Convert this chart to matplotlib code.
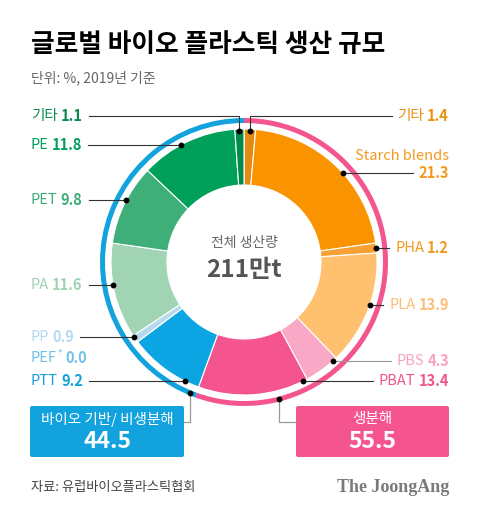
import numpy as np
import matplotlib
matplotlib.use("Agg")
import matplotlib.pyplot as plt
from matplotlib.patches import FancyBboxPatch

plt.rcParams['font.family'] = ['Noto Sans CJK KR', 'DejaVu Sans']

# 생분해 (12시 방향부터 시계방향)
bio_names = ["기타", "Starch blends", "PHA", "PLA", "PBS", "PBAT"]
bio_values = [1.4, 21.3, 1.2, 13.9, 4.3, 13.4]
bio_colors = ["#E38A12", "#FA9300", "#F7A034", "#FFC16F", "#F9A8C5", "#F5558F"]
bio_text_colors = ["#E8920F", "#F39A1E", "#F39A1E", "#FDBE76", "#F7A3C1", "#F0568E"]

# 바이오 기반/비생분해 (이어서 시계방향)
nonbio_names = ["PTT", "PEF*", "PP", "PA", "PET", "PE", "기타"]
nonbio_values = [9.2, 0.0, 0.9, 11.6, 9.8, 11.8, 1.1]
nonbio_colors = ["#0AA5E2", "#6FBFE9", "#B5DAF0", "#A0D4B3", "#3EAF78", "#00A05A", "#008A4E"]
nonbio_text_colors = ["#129FDB", "#6FBFE9", "#B5DAF0", "#9FD3B2", "#3DAE78", "#00A05E", "#0B8A4F"]

group_names = ["생분해", "바이오 기반/ 비생분해"]
group_values = [55.5, 44.5]
group_colors = ["#F5558F", "#12A3DE"]

title = "글로벌 바이오 플라스틱 생산 규모"
subtitle = "단위: %, 2019년 기준"
center_title = "전체 생산량"
center_value = "211만t"
source = "자료: 유럽바이오플라스틱협회"

W, H = 480, 513


def Y(y):
    return H - y


fig = plt.figure(figsize=(W / 100, H / 100), dpi=100)
ax = fig.add_axes([0, 0, 1, 1])

cx, cy = 244, Y(262)
R_OUT, R_IN = 133, 77
R_RING = 144

values = bio_values + nonbio_values
ax.pie(values, colors=bio_colors + nonbio_colors, startangle=90, counterclock=False,
       radius=R_OUT, center=(cx, cy),
       wedgeprops=dict(width=R_OUT - R_IN, edgecolor="white", linewidth=0.8))
ax.pie(group_values, colors=group_colors, startangle=90, counterclock=False,
       radius=R_RING, center=(cx, cy), wedgeprops=dict(width=5, edgecolor="none"))

ax.set_xlim(0, W)
ax.set_ylim(0, H)
ax.set_aspect("equal")
ax.axis("off")

fig.canvas.draw()
rend = fig.canvas.get_renderer()

FS = 10.5
NAME_W = 300
LINE = "#333333"


def mid_angle(idx):
    cum = sum(values[:idx]) + values[idx] / 2
    return np.deg2rad(90 - 360 * cum / sum(values))


def circle_x(y, side, r=R_OUT):
    dy = Y(y) - cy
    return cx + side * np.sqrt(r ** 2 - dy ** 2)


def label_left(x, y, name, val, color):
    star = name.endswith("*")
    t1 = ax.text(x, Y(y), name.rstrip("*"), ha="left", va="center", fontsize=FS,
                 color=color, fontweight=NAME_W)
    x1 = t1.get_window_extent(rend).x1
    if star:
        ts = ax.text(x1 + 0.5, Y(y) + 4, "*", ha="left", va="center", fontsize=7,
                     color=color)
        x1 = ts.get_window_extent(rend).x1
    t2 = ax.text(x1 + 3, Y(y), val, ha="left", va="center", fontsize=FS,
                 color=color, fontweight="bold")
    return t2.get_window_extent(rend).x1


def label_right(x, y, name, val, color):
    t2 = ax.text(x, Y(y), val, ha="right", va="center", fontsize=FS,
                 color=color, fontweight="bold")
    bb = t2.get_window_extent(rend)
    t1 = ax.text(bb.x0 - 3, Y(y), name, ha="right", va="center", fontsize=FS,
                 color=color, fontweight=NAME_W)
    return t1.get_window_extent(rend).x0


def dot(x, y):
    ax.plot([x], [y], "o", color="black", markersize=3.2, zorder=5)


# 왼쪽 라벨
left_y = [381, 358, 337, 285, 200, 145, 116]
for i, (n, v, c, ly) in enumerate(zip(nonbio_names, nonbio_values, nonbio_text_colors, left_y)):
    x_end = label_left(31, ly, n, f"{v:.1f}", c)
    if v == 0:
        continue
    idx = len(bio_values) + i
    if n == "기타":
        a = mid_angle(idx)
        dx_, dy_ = cx + (R_OUT - 2) * np.cos(a), cy + (R_OUT - 2) * np.sin(a)
        ax.plot([x_end + 6, dx_, dx_], [Y(ly), Y(ly), dy_], color=LINE, lw=0.8)
        dot(dx_, dy_)
    else:
        dx_ = circle_x(ly, -1)
        ax.plot([x_end + 6, dx_], [Y(ly), Y(ly)], color=LINE, lw=0.8)
        dot(dx_, Y(ly))

# 오른쪽 라벨
right_y = [116, 173, 248, 305, 361, 381]
for i, (n, v, c, ly) in enumerate(zip(bio_names, bio_values, bio_text_colors, right_y)):
    if n == "Starch blends":
        ax.text(449, Y(ly - 17), n, ha="right", va="center", fontsize=FS, color=c,
                fontweight=NAME_W)
        t = ax.text(449, Y(ly), f"{v:.1f}", ha="right", va="center", fontsize=FS,
                    color=c, fontweight="bold")
        x_start = t.get_window_extent(rend).x0
    else:
        x_start = label_right(449, ly, n, f"{v:.1f}", c)
    lc = "#999999" if n == "PBS" else LINE
    if n == "기타":
        a = mid_angle(i)
        dx_, dy_ = cx + (R_OUT - 2) * np.cos(a), cy + (R_OUT - 2) * np.sin(a)
        ax.plot([x_start - 6, dx_, dx_], [Y(ly), Y(ly), dy_], color=lc, lw=0.8)
        dot(dx_, dy_)
    else:
        dx_ = circle_x(ly, 1)
        ax.plot([x_start - 6, dx_], [Y(ly), Y(ly)], color=lc, lw=0.8)
        dot(dx_, Y(ly))

# 가운데 텍스트
ax.text(cx, Y(243), center_title, ha="center", va="center", fontsize=10,
        color="#666666", fontweight=NAME_W)
ax.text(cx, Y(270), center_value, ha="center", va="center", fontsize=17.5,
        color="#555555", fontweight="bold")

# 그룹 박스
boxes = [(296, 449, 279), (30, 184, 190)]
for (x0, x1, lx), gname, gval, gc in zip(boxes, group_names, group_values, group_colors):
    ax.add_patch(FancyBboxPatch((x0, Y(457)), x1 - x0, 51,
                                boxstyle="round,pad=0,rounding_size=2",
                                facecolor=gc, edgecolor="none"))
    mx = (x0 + x1) / 2
    ax.text(mx, Y(419), gname, ha="center", va="center", fontsize=10.5,
            color="white", fontweight=NAME_W)
    ax.text(mx, Y(442), f"{gval:.1f}", ha="center", va="center", fontsize=16.5,
            color="white", fontweight="bold")
    ry = Y(262) - np.sqrt(141.5 ** 2 - (lx - cx) ** 2)
    bx = x1 if x1 < cx else x0
    ax.plot([lx, lx, bx], [ry, Y(422), Y(422)], color="#999999", lw=0.9)
    dot(lx, ry)

# 제목, 출처
ax.text(31, Y(45), title, ha="left", va="center", fontsize=18.5, fontweight="bold", color="black")
ax.text(31, Y(78), subtitle, ha="left", va="center", fontsize=10, color="#666666")
ax.text(31, Y(487), source, ha="left", va="center", fontsize=9.5, color="#444444")
ax.text(449, Y(487), "The JoongAng", ha="right", va="center", fontsize=13,
        family="Liberation Serif", fontweight="bold", color="#7A7A7A")

fig.savefig("out.png", dpi=100, facecolor="white")
